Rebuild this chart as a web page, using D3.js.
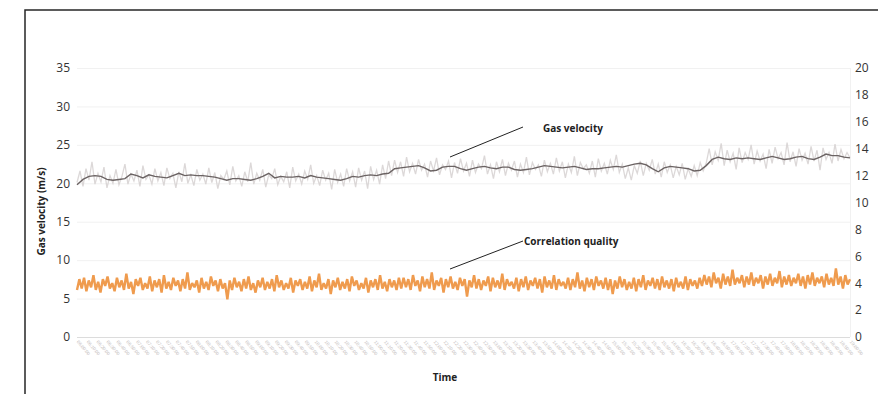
<!DOCTYPE html>
<html>
<head>
<meta charset="utf-8">
<script src="https://cdn.jsdelivr.net/npm/d3@7"></script>
<style>
  html, body { margin: 0; padding: 0; background: #fff; }
  svg { display: block; font-family: "Open Sans", "Noto Sans", sans-serif; }
</style>
</head>
<body>
<div id="chart"></div>
<script>
// Time span of the recording (x axis)
const startTime = new Date(2020, 0, 1, 6, 0, 0)
const endTime = new Date(2020, 0, 1, 19, 0, 0)

// Gas velocity, smoothed trace (m/s, left axis)
const gasAvg = [
  19.8, 20.5, 20.9, 21.0, 20.9, 20.5, 20.4, 20.5, 20.6, 21.2,
  21.0, 20.7, 21.1, 20.9, 20.8, 20.7, 21.0, 21.3, 21.0, 21.1,
  21.0, 21.0, 20.9, 20.8, 20.6, 20.4, 20.6, 20.6, 20.5, 20.4,
  20.6, 20.9, 21.3, 20.7, 20.9, 20.8, 20.8, 20.9, 20.7, 21.0,
  20.8, 20.7, 20.6, 20.5, 20.4, 20.6, 20.9, 20.8, 21.0, 21.1,
  21.0, 21.2, 21.3, 21.9, 22.0, 22.1, 22.2, 22.3, 22.0, 21.6,
  21.7, 22.1, 22.2, 22.2, 21.9, 21.7, 21.9, 22.1, 22.2, 22.0,
  21.9, 22.1, 22.1, 21.8, 21.7, 21.8, 21.9, 22.1, 22.3, 22.2,
  22.1, 22.0, 22.1, 22.2, 22.0, 21.8, 21.9, 21.9, 22.0, 22.1,
  22.2, 22.1, 22.3, 22.5, 22.6, 22.4, 21.9, 21.5, 22.0, 22.2,
  22.1, 22.0, 21.9, 21.6, 21.7, 22.3, 23.1, 23.4, 23.2, 23.1,
  23.3, 23.2, 23.3, 23.2, 23.1, 23.3, 23.5, 23.3, 23.1, 23.2,
  23.4, 23.5, 23.2, 23.1, 23.4, 23.8, 23.6, 23.6, 23.4, 23.3
]

// Gas velocity, raw readings (m/s, left axis)
const gasRaw = [
  20.1, 21.6, 19.6, 21.9, 20.4, 22.8, 19.9, 21.3, 20.2, 22.1,
  19.4, 21.0, 20.0, 21.8, 19.8, 20.9, 22.5, 19.9, 21.2, 20.3,
  21.7, 19.6, 22.3, 20.5, 21.1, 19.9, 21.9, 20.3, 21.4, 19.7,
  22.0, 20.6, 21.3, 19.4, 21.5, 20.2, 22.6, 20.0, 21.1, 19.7,
  21.8, 20.4, 21.2, 19.9, 22.0, 20.1, 21.4, 19.3, 21.0, 20.5,
  21.6, 19.8, 22.2, 20.3, 21.0, 19.6, 21.5, 20.2, 22.7, 19.9,
  21.3, 20.4, 21.8, 19.5, 21.1, 20.6, 21.9, 19.8, 20.9, 20.2,
  21.5, 19.4, 22.1, 20.3, 21.2, 19.9, 21.6, 20.5, 22.4, 20.0,
  21.0, 19.7, 21.7, 20.4, 21.3, 19.2, 21.8, 20.1, 21.2, 19.6,
  21.9, 20.3, 21.5, 19.5, 22.0, 20.4, 21.6, 19.3, 22.2, 20.5,
  21.7, 19.9, 22.4, 20.6, 22.9,
  21.0, 23.0, 21.4, 22.8, 20.9, 23.4, 21.5, 22.6, 21.2, 23.1,
  21.7, 22.5, 20.8, 22.9, 21.6, 23.3, 21.1, 22.4, 21.8, 22.9,
  20.7, 22.7, 21.3, 23.2, 21.6, 22.6, 20.9, 23.0, 21.4, 22.5,
  21.9, 23.6, 21.2, 22.4, 20.6, 22.8, 21.5, 23.1, 21.0, 22.6,
  21.7, 22.9, 20.8, 22.5, 21.4, 23.4, 21.1, 22.7, 21.8, 22.4,
  20.9, 23.0, 21.5, 22.6, 21.2, 23.3, 21.6, 22.8, 20.7, 22.5,
  21.4, 23.5, 21.0, 22.7, 21.9, 22.4, 21.3, 22.9, 20.8, 23.2,
  21.6, 22.6, 21.2, 23.0, 21.8, 23.7, 21.4, 22.5, 20.6, 22.0,
  20.4, 22.3, 21.3, 22.9, 21.0, 22.6, 21.7, 23.1, 21.2, 22.5,
  20.8, 22.8, 21.4, 22.4, 20.7, 22.2, 21.1, 22.6, 20.5, 21.9,
  20.9, 22.3, 21.0, 22.7, 21.6,
  22.6, 24.5, 22.4, 24.1, 23.0, 25.2, 22.3, 24.3, 22.8, 23.9,
  21.8, 24.6, 22.7, 24.0, 23.1, 25.0, 22.5, 24.2, 22.9, 23.8,
  21.9, 24.4, 22.6, 24.7, 23.2, 24.0, 22.4, 25.3, 22.8, 24.1,
  22.2, 24.5, 23.0, 23.9, 22.5, 24.8, 22.9, 24.3, 21.7, 24.6,
  23.1, 24.0, 22.6, 25.1, 22.9, 24.4, 23.2, 24.0, 23.3
]

// Correlation quality (right axis)
const corrQuality = [
  3.5, 4.3, 3.6, 4.4, 3.4, 4.2, 3.7, 4.6, 3.5, 4.1,
  3.3, 4.3, 3.8, 4.5, 3.6, 4.0, 3.4, 4.4, 3.7, 4.2,
  3.5, 4.7, 3.6, 4.1, 3.2, 4.3, 3.8, 4.4, 3.5, 4.0,
  3.6, 4.5, 3.4, 4.2, 3.7, 4.3, 3.3, 4.6, 3.6, 4.1,
  3.5, 4.4, 3.8, 4.2, 3.4, 4.3, 3.6, 4.8, 3.5, 4.0,
  3.7, 4.2, 3.3, 4.4, 3.6, 4.1, 3.5, 4.5, 3.8, 4.2,
  3.4, 4.3, 3.6, 4.0, 2.8, 4.2, 3.5, 4.4, 3.7, 4.1,
  3.4, 4.3, 3.6, 4.5, 3.5, 4.0, 3.3, 4.2, 3.7, 4.4,
  3.5, 4.1, 3.6, 4.3, 3.4, 4.6, 3.7, 4.2, 3.5, 4.0,
  3.6, 4.4, 3.3, 4.2, 3.8, 4.3, 3.5, 4.1, 3.6, 4.5,
  3.4, 4.2, 3.7, 4.7, 3.5, 4.0, 3.6, 4.3, 3.2, 4.2,
  3.7, 4.4, 3.5, 4.1, 3.6, 4.3, 3.4, 4.5, 3.8, 4.2,
  3.5, 4.0, 3.6, 4.4, 3.3, 4.2, 3.7, 4.3, 3.5, 4.6,
  3.6, 4.1, 3.4, 4.3, 3.7, 4.2, 3.5, 4.4,
  3.6, 4.4, 3.7, 4.3, 3.5, 4.6, 3.8, 4.2, 3.4, 4.5,
  3.7, 4.3, 3.6, 4.8, 3.5, 4.2, 3.8, 4.4, 3.3, 4.3,
  3.7, 4.5, 3.6, 4.1, 3.5, 4.4, 3.8, 4.3, 3.0, 4.2,
  3.7, 4.6, 3.6, 4.3, 3.5, 4.2, 3.8, 4.5, 3.4, 4.4,
  3.7, 4.2, 3.6, 4.7, 3.5, 4.3, 3.8, 4.1, 3.6, 4.4,
  3.4, 4.3, 3.7, 4.5, 3.5, 4.2, 3.8, 4.4, 3.6, 4.3,
  3.3, 4.5, 3.7, 4.2, 3.6, 4.6, 3.5, 4.3, 3.8, 4.1,
  3.6, 4.4, 3.5, 4.3, 3.7, 4.8, 3.6, 4.2, 3.4, 4.4,
  3.7, 4.3, 3.5, 4.5, 3.8, 4.2, 3.6, 4.4, 3.5, 4.3,
  3.2, 4.2, 3.6, 4.5, 3.7, 4.3, 3.5, 4.1, 3.6, 4.4,
  3.4, 4.3, 3.7, 4.6, 3.5, 4.2, 3.8, 4.4, 3.6, 4.3,
  3.5, 4.5, 3.7, 4.2, 3.6, 4.3, 3.4, 4.4, 3.7, 4.1,
  3.6, 4.5, 3.5, 4.3, 3.8, 4.2, 3.6, 4.4,
  3.8, 4.6, 3.9, 4.5, 3.7, 4.8, 4.0, 4.4, 3.6, 4.7,
  3.9, 4.5, 3.8, 5.0, 3.9, 4.4, 4.0, 4.6, 3.7, 4.5,
  3.9, 4.8, 3.8, 4.4, 4.0, 4.6, 3.6, 4.5, 3.9, 4.7,
  3.8, 4.4, 4.0, 4.9, 3.7, 4.5, 3.9, 4.6, 3.8, 4.4,
  4.0, 4.7, 3.8, 4.5, 3.6, 4.6, 3.9, 4.8, 3.8, 4.4,
  4.0, 4.5, 3.7, 4.7, 3.9, 4.4, 3.8, 5.1, 3.9, 4.5,
  3.6, 4.6, 3.9, 4.3
]

const leftTicks = [0, 5, 10, 15, 20, 25, 30, 35]
const rightTicks = [0, 2, 4, 6, 8, 10, 12, 14, 16, 18, 20]

const width = 878
const height = 394
const plot = { left: 77, right: 850, top: 68, bottom: 337 }

const svg = d3.select("#chart")
  .append("svg")
  .attr("width", width)
  .attr("height", height)

const x = d3.scaleTime()
  .domain([startTime, endTime])
  .range([plot.left, plot.right])

const yLeft = d3.scaleLinear().domain([0, 35]).range([plot.bottom, plot.top])
const yRight = d3.scaleLinear().domain([0, 20]).range([plot.bottom, plot.top])

// spread n samples evenly over the recorded span
function timeAt(i, n) {
  return new Date(+startTime + (i / (n - 1)) * (endTime - startTime))
}

// Frame around the figure
svg.append("path")
  .attr("d", `M25,${height} V10 H${width}`)
  .attr("fill", "none")
  .attr("stroke", "#262626")
  .attr("stroke-width", 1.5)

// Gridlines
svg.append("g")
  .selectAll("line")
  .data(leftTicks)
  .join("line")
  .attr("x1", plot.left)
  .attr("x2", plot.right)
  .attr("y1", d => yLeft(d) + 0.5)
  .attr("y2", d => yLeft(d) + 0.5)
  .attr("stroke", d => d === 0 ? "#dcdcdc" : "#f1f1f1")

svg.append("line")
  .attr("x1", plot.right + 0.5).attr("x2", plot.right + 0.5)
  .attr("y1", plot.top).attr("y2", plot.bottom)
  .attr("stroke", "#f1f1f1")

// Left axis
const leftAxis = svg.append("g")
  .attr("transform", `translate(${plot.left},0)`)
  .call(d3.axisLeft(yLeft).tickValues(leftTicks).tickSize(0).tickPadding(7))
leftAxis.select(".domain").remove()
leftAxis.selectAll("text")
  .attr("font-size", 12)
  .attr("fill", "#333")
  .attr("font-family", "Open Sans, sans-serif")

// Right axis
const rightAxis = svg.append("g")
  .attr("transform", `translate(${plot.right},0)`)
  .call(d3.axisRight(yRight).tickValues(rightTicks).tickSize(0).tickPadding(5))
rightAxis.select(".domain").remove()
rightAxis.selectAll("text")
  .attr("font-size", 12)
  .attr("fill", "#333")
  .attr("font-family", "Open Sans, sans-serif")

// Time axis with tiny rotated labels
const xAxis = svg.append("g")
  .attr("transform", `translate(0,${plot.bottom})`)
  .call(d3.axisBottom(x)
    .ticks(d3.timeMinute.every(10))
    .tickFormat(d3.timeFormat("%H:%M:%S"))
    .tickSize(0)
    .tickPadding(0))
xAxis.select(".domain").remove()
xAxis.selectAll("text")
  .attr("font-size", 4.6)
  .attr("fill", "#c4bdbd")
  .attr("text-anchor", "start")
  .attr("dy", 0)
  .attr("transform", "translate(-1,5) rotate(50)")

// Raw gas velocity
const rawLine = d3.line()
  .x((d, i) => x(timeAt(i, gasRaw.length)))
  .y(d => yLeft(d))

svg.append("path")
  .datum(gasRaw)
  .attr("d", rawLine)
  .attr("fill", "none")
  .attr("stroke", "#d3cece")
  .attr("stroke-width", 1.3)
  .attr("opacity", 0.8)

// Smoothed gas velocity
const avgLine = d3.line()
  .x((d, i) => x(timeAt(i, gasAvg.length)))
  .y(d => yLeft(d))
  .curve(d3.curveLinear)

svg.append("path")
  .datum(gasAvg)
  .attr("d", avgLine)
  .attr("fill", "none")
  .attr("stroke", "#6b6363")
  .attr("stroke-width", 1.4)

// Correlation quality
const corrLine = d3.line()
  .x((d, i) => x(timeAt(i, corrQuality.length)))
  .y(d => yRight(d))

svg.append("path")
  .datum(corrQuality)
  .attr("d", corrLine)
  .attr("fill", "none")
  .attr("stroke", "#ef9b4e")
  .attr("stroke-width", 2.4)
  .attr("stroke-linejoin", "bevel")

// Axis titles
svg.append("text")
  .attr("transform", `translate(45,${(plot.top + plot.bottom) / 2 + 9}) rotate(-90)`)
  .attr("text-anchor", "middle")
  .attr("font-size", 10)
  .attr("font-weight", "bold")
  .attr("fill", "#222")
  .text("Gas velocity (m/s)")

svg.append("text")
  .attr("x", 445)
  .attr("y", 381)
  .attr("text-anchor", "middle")
  .attr("font-size", 10)
  .attr("font-weight", "bold")
  .attr("fill", "#222")
  .text("Time")

// Callouts
const callouts = [
  { label: "Gas velocity", from: [450, 157], to: [523, 127], tx: 543, ty: 132 },
  { label: "Correlation quality", from: [450, 269], to: [523, 241], tx: 524, ty: 245 }
]

svg.append("g")
  .selectAll("line")
  .data(callouts)
  .join("line")
  .attr("x1", d => d.from[0]).attr("y1", d => d.from[1])
  .attr("x2", d => d.to[0]).attr("y2", d => d.to[1])
  .attr("stroke", "#222")
  .attr("stroke-width", 1)

svg.append("g")
  .selectAll("text")
  .data(callouts)
  .join("text")
  .attr("x", d => d.tx)
  .attr("y", d => d.ty)
  .attr("font-size", 10)
  .attr("font-weight", "bold")
  .attr("fill", "#222")
  .text(d => d.label)
</script>
</body>
</html>
